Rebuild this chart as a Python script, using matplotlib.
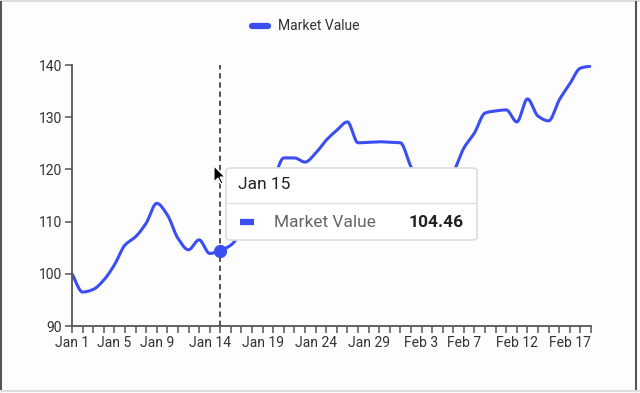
import numpy as np
import matplotlib
matplotlib.use("Agg")
import matplotlib.pyplot as plt
from matplotlib.patches import FancyBboxPatch, Polygon
from matplotlib.lines import Line2D

plt.rcParams['font.family'] = ['Roboto', 'DejaVu Sans']

# data: one value per day, Jan 1 .. Feb 19
days = ["Jan %d" % d for d in range(1, 32)] + ["Feb %d" % d for d in range(1, 20)]
values = [100.0, 96.5, 97.0, 98.8, 101.7, 105.5, 107.1, 109.7, 113.5, 111.3,
          106.8, 104.6, 106.5, 103.9, 104.46, 105.5, 108.0, 111.0, 115.0, 118.0,
          122.2, 122.2, 121.4, 123.1, 125.6, 127.5, 129.1, 125.1, 125.2, 125.3,
          125.2, 125.1, 120.5, 117.0, 116.0, 117.0, 119.5, 124.1, 127.0, 130.8,
          131.2, 131.4, 129.1, 133.5, 130.2, 129.3, 133.3, 136.4, 139.4, 139.8]
label_idx = [0, 4, 8, 13, 18, 23, 28, 33, 37, 42, 47]
hover_idx = 14
series_name = "Market Value"
blue = "#3b4ef2"


def monotone(x, y, n=20):
    # Fritsch-Carlson monotone cubic, just for drawing the smooth line
    x = np.asarray(x, float); y = np.asarray(y, float)
    h = np.diff(x); d = np.diff(y) / h
    m = np.zeros_like(y)
    m[0], m[-1] = d[0], d[-1]
    for k in range(1, len(y) - 1):
        if d[k - 1] * d[k] > 0:
            m[k] = 3 * (h[k - 1] + h[k]) / ((2 * h[k] + h[k - 1]) / d[k - 1] + (h[k] + 2 * h[k - 1]) / d[k])
    xs, ys = [], []
    for k in range(len(h)):
        t = np.linspace(0, 1, n, endpoint=False)
        h00 = 2 * t**3 - 3 * t**2 + 1; h10 = t**3 - 2 * t**2 + t
        h01 = -2 * t**3 + 3 * t**2; h11 = t**3 - t**2
        xs.append(x[k] + t * h[k])
        ys.append(h00 * y[k] + h10 * h[k] * m[k] + h01 * y[k + 1] + h11 * h[k] * m[k + 1])
    xs.append([x[-1]]); ys.append([y[-1]])
    return np.concatenate(xs), np.concatenate(ys)


fig = plt.figure(figsize=(6.4, 3.93), dpi=100)
fig.patch.set_facecolor("#fdfdfd")
ax = fig.add_axes([72 / 640, 1 - 326 / 393, 519 / 640, 261 / 393])
ax.set_facecolor("none")

idx = np.arange(len(values))
sx, sy = monotone(idx, values)
ax.plot(sx, sy, color=blue, lw=2.2, solid_capstyle="round")
ax.axvline(hover_idx, color="#222222", lw=1.1, ls=(0, (3.5, 2.5)))
ax.plot([hover_idx], [values[hover_idx]], "o", ms=8.5, color=blue, zorder=5)

ax.set_xlim(0, len(values) - 1)
ax.set_ylim(90, 140)
ax.set_yticks([90, 100, 110, 120, 130, 140])
ax.set_xticks(idx, minor=True)
ax.set_xticks(label_idx)
ax.set_xticklabels([days[i] for i in label_idx])
for s in ["top", "right"]:
    ax.spines[s].set_visible(False)
for s in ["left", "bottom"]:
    ax.spines[s].set_color("#555555")
    ax.spines[s].set_linewidth(1.3)
ax.tick_params(which="both", length=5, width=1.1, color="#555555", labelsize=10,
               labelcolor="#333333", pad=2)

# legend
fig.add_artist(Line2D([252 / 640, 268 / 640], [1 - 26 / 393] * 2, color=blue, lw=4.5,
                      solid_capstyle="round"))
fig.text(278 / 640, 1 - 26 / 393, series_name, fontsize=10, color="#333333", va="center")

# tooltip
box = FancyBboxPatch((226 / 640, 1 - 240 / 393), 251 / 640, 72 / 393,
                     boxstyle="round,pad=0,rounding_size=0.008", transform=fig.transFigure,
                     facecolor="white", edgecolor="#dddddd", lw=1.2, zorder=10)
fig.add_artist(box)
fig.add_artist(Line2D([226 / 640, 477 / 640], [1 - 203 / 393] * 2, color="#e0e0e0", lw=1, zorder=11))
fig.text(238 / 640, 1 - 185 / 393, days[hover_idx], fontsize=12.5, color="#222222",
         va="center", zorder=12)
fig.add_artist(Line2D([240 / 640, 254 / 640], [1 - 222 / 393] * 2, color=blue, lw=4.5,
                      solid_capstyle="butt", zorder=12))
fig.text(274 / 640, 1 - 222 / 393, series_name, fontsize=12.5, color="#666666",
         va="center", zorder=12)
fig.text(464 / 640, 1 - 222 / 393, "%.2f" % values[hover_idx], fontsize=12.5, color="#222222",
         fontweight="bold", va="center", ha="right", zorder=12)

# mouse cursor
cur = np.array([[0, 0], [0, 16], [4, 12], [7, 18], [9, 17], [6, 11], [11, 11]], float)
cur[:, 0] = (214 + cur[:, 0]) / 640
cur[:, 1] = 1 - (166 + cur[:, 1]) / 393
fig.add_artist(Polygon(cur, closed=True, facecolor="black", edgecolor="white", lw=0.8, zorder=13))

# screenshot frame
fig.add_artist(Line2D([0, 1], [0.998, 0.998], color="#dddddd", lw=1.5))
fig.add_artist(Line2D([0.002, 0.002], [0.005, 0.995], color="#555555", lw=1.5))
fig.add_artist(Line2D([636 / 640, 636 / 640], [0.005, 0.995], color="#555555", lw=1.5))
fig.add_artist(Line2D([0, 1], [0.004, 0.004], color="#dddddd", lw=1.5))

fig.savefig("out.png", dpi=100, facecolor=fig.get_facecolor())
